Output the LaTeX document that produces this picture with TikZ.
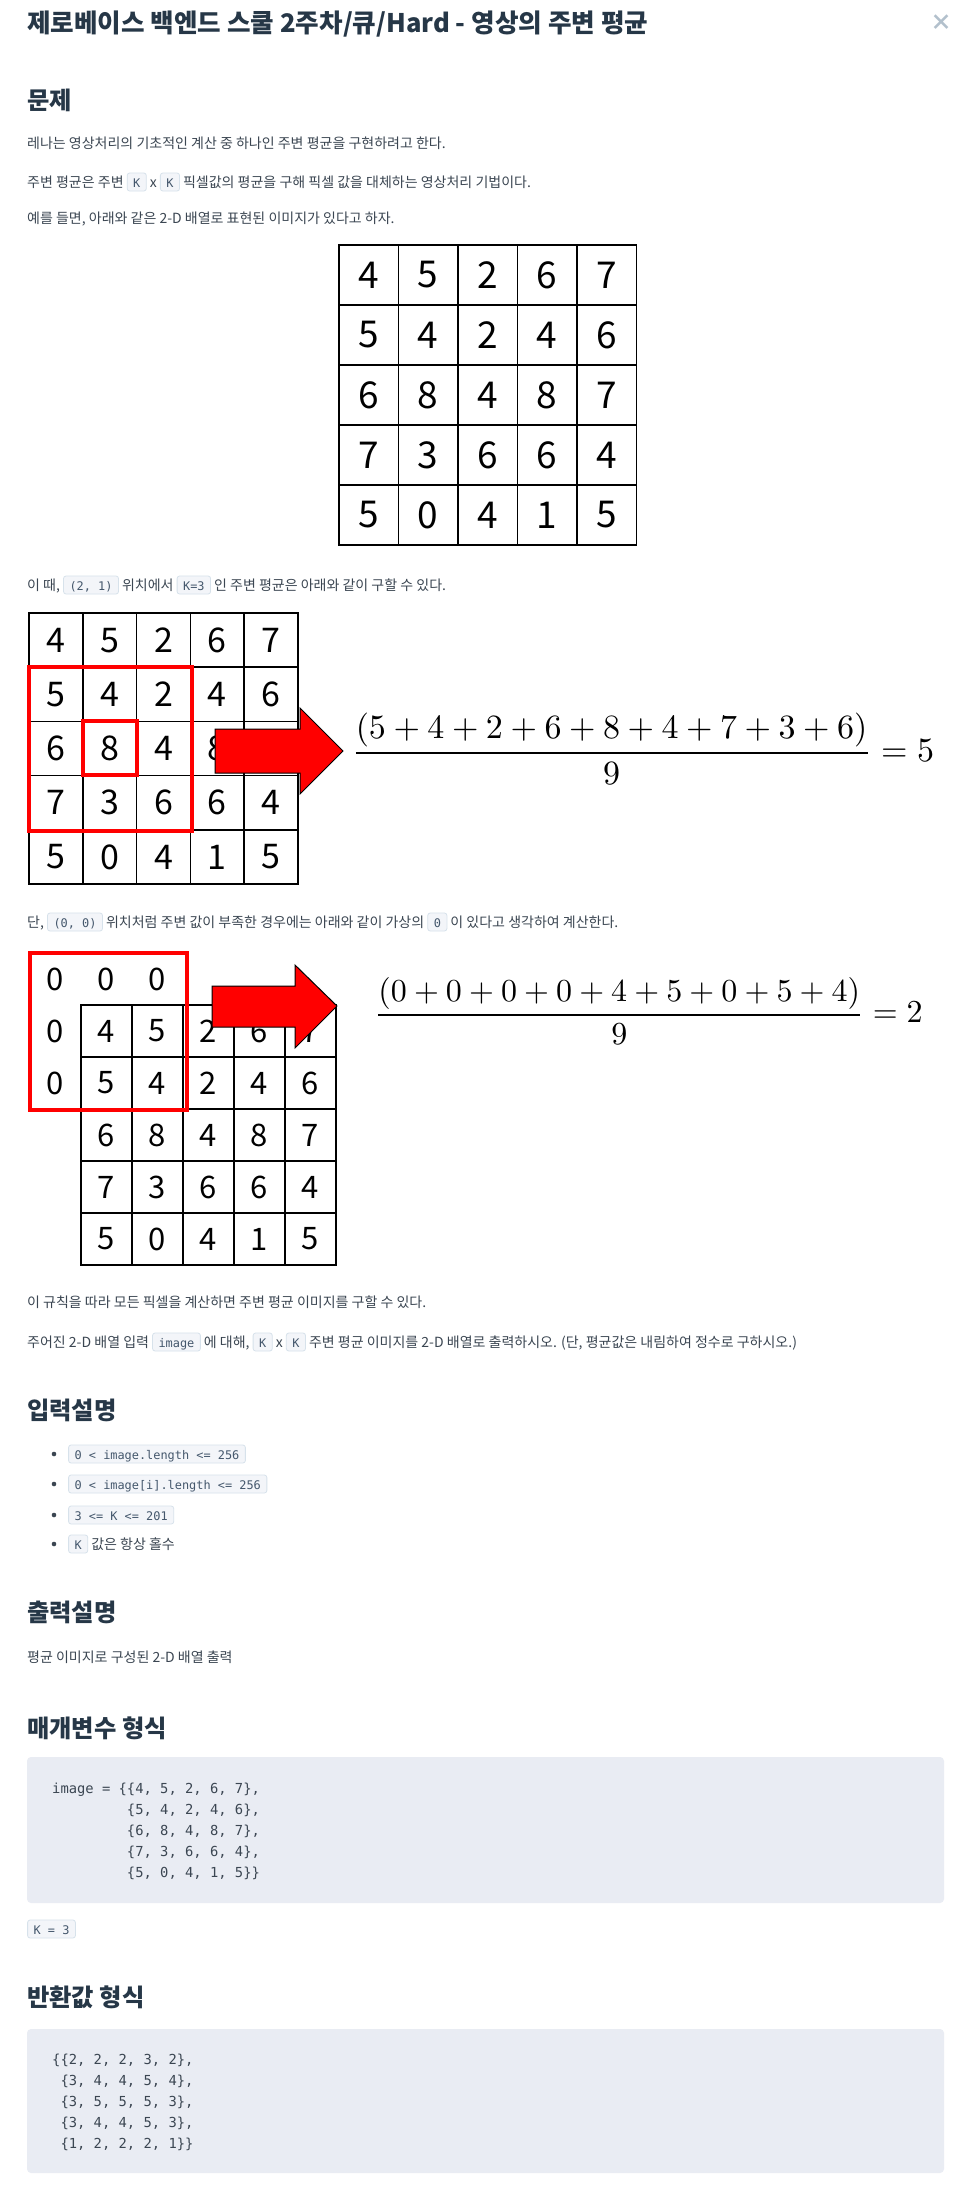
\documentclass[tikz,border=0pt]{standalone}
\usepackage{fontspec}
\setmainfont{Noto Sans CJK KR}
\newfontfamily\kr{Noto Sans CJK KR}
\newfontfamily\mono{DejaVu Sans Mono}
\definecolor{headc}{HTML}{263747}
\definecolor{bodyc}{HTML}{3B4652}
\definecolor{codebg}{HTML}{E9ECF3}
\definecolor{icbg}{HTML}{F3F5F9}
\definecolor{icbd}{HTML}{D7E2EB}
\definecolor{ictext}{HTML}{44576C}
\definecolor{closec}{HTML}{B2C0CC}
\definecolor{arrred}{HTML}{FF0000}
\newcommand{\ic}[1]{\tikz[baseline=(icn.base)]\node[fill=icbg,draw=icbd,line width=0.8pt,rounded corners=2.5pt,inner xsep=6pt,inner ysep=0pt,text height=14pt,text depth=4pt,font=\mono\fontsize{11.9}{12}\selectfont,text=ictext](icn){#1};}
\tikzset{
  ttl/.style={anchor=base west,inner sep=0,text=headc,font=\kr\bfseries\fontsize{25.6}{30}\selectfont},
  hd/.style={anchor=base west,inner sep=0,text=headc,font=\kr\bfseries\fontsize{24.3}{28}\selectfont},
  txt/.style={anchor=base west,inner sep=0,text=bodyc,font=\kr\fontsize{14}{16}\selectfont},
  cd/.style={anchor=base west,inner sep=0,text=bodyc,font=\mono\fontsize{13.8}{16}\selectfont},
  cell1/.style={draw=black,line width=1.6pt,minimum width=59.7pt,minimum height=60pt,inner sep=0,font=\kr\fontsize{37}{40}\selectfont},
  cell2/.style={draw=black,line width=1.6pt,minimum width=53.8pt,minimum height=54.2pt,inner sep=0,font=\kr\fontsize{34}{38}\selectfont},
  cell3/.style={draw=black,line width=1.6pt,minimum width=51pt,minimum height=52pt,inner sep=0,font=\kr\fontsize{31}{34}\selectfont},
  virt/.style={minimum width=51pt,minimum height=52pt,inner sep=0,font=\kr\fontsize{31}{34}\selectfont},
  redbox/.style={draw=arrred,line width=4pt},
  bigarrow/.style={fill=arrred,draw=black,line width=1pt,line join=miter},
  fml/.style={anchor=west,inner sep=0,transform shape,font=\fontsize{10}{12}\selectfont},
  bul/.style={fill=bodyc}
}
\begin{document}
\begin{tikzpicture}[x=1pt,y=-1pt]
\useasboundingbox[fill=white] (0,0) rectangle (966,2206);
% title
\node[ttl] (title) at (27,32) {제로베이스 백엔드 스쿨 2주차/큐/Hard - 영상의 주변 평균};
\node[text=closec,inner sep=0,font=\kr\bfseries\fontsize{22}{24}\selectfont] (close) at (941,23) {×};
% problem
\node[hd] (h1) at (27,109) {문제};
\node[txt] (p1) at (27,148) {레나는 영상처리의 기초적인 계산 중 하나인 주변 평균을 구현하려고 한다.};
\node[txt] (p2) at (27,187) {주변 평균은 주변 \ic{K} x \ic{K} 픽셀값의 평균을 구해 픽셀 값을 대체하는 영상처리 기법이다.};
\node[txt] (p3) at (27,223) {예를 들면, 아래와 같은 2-D 배열로 표현된 이미지가 있다고 하자.};
% grid 1
\foreach \row [count=\i from 0] in {{4,5,2,6,7},{5,4,2,4,6},{6,8,4,8,7},{7,3,6,6,4},{5,0,4,1,5}}{
  \foreach \v [count=\j from 0] in \row {
    \node[cell1] (ga-\i-\j) at ({339+59.5*\j+29.75},{245+60*\i+30}) {\v};
  }
}
\node[txt] (l1) at (27,590) {이 때, \ic{(2, 1)} 위치에서 \ic{K=3} 인 주변 평균은 아래와 같이 구할 수 있다.};
% grid 2
\foreach \row [count=\i from 0] in {{4,5,2,6,7},{5,4,2,4,6},{6,8,4,8,7},{7,3,6,6,4},{5,0,4,1,5}}{
  \foreach \v [count=\j from 0] in \row {
    \node[cell2] (gb-\i-\j) at ({29+53.8*\j+26.9},{613+54.2*\i+27.1}) {\v};
  }
}
\draw[redbox] (29,667) rectangle (192,831);
\draw[redbox] (83,721) rectangle (137,775);
\draw[bigarrow] (215,729) -- (300,729) -- (300,708) -- (343,751) -- (300,794) -- (300,773) -- (215,773) -- cycle;
\node[fml,scale=3.4] (f1) at (351,749) {$\displaystyle\frac{(5+4+2+6+8+4+7+3+6)}{9}=5$};
\node[txt] (l2) at (27,927) {단, \ic{(0, 0)} 위치처럼 주변 값이 부족한 경우에는 아래와 같이 가상의 \ic{0} 이 있다고 생각하여 계산한다.};
% grid 3
\foreach \row [count=\i from 0] in {{4,5,2,6,7},{5,4,2,4,6},{6,8,4,8,7},{7,3,6,6,4},{5,0,4,1,5}}{
  \foreach \v [count=\j from 0] in \row {
    \node[cell3] (gc-\i-\j) at ({81+51*\j+25.5},{1005+52*\i+26}) {\v};
  }
}
\node[virt] (z00) at (55.5,979) {0};
\node[virt] (z01) at (106.5,979) {0};
\node[virt] (z02) at (157.5,979) {0};
\node[virt] (z10) at (55.5,1031) {0};
\node[virt] (z20) at (55.5,1083) {0};
\draw[redbox] (30,953) rectangle (187,1110);
\draw[bigarrow] (212,986) -- (295,986) -- (295,965) -- (337,1006) -- (295,1048) -- (295,1027) -- (212,1027) -- cycle;
\node[fml,scale=3.2] (f2) at (374,1011) {$\displaystyle\frac{(0+0+0+0+4+5+0+5+4)}{9}=2$};
\node[txt] (l3) at (27,1307) {이 규칙을 따라 모든 픽셀을 계산하면 주변 평균 이미지를 구할 수 있다.};
\node[txt] (l4) at (27,1347) {주어진 2-D 배열 입력 \ic{image} 에 대해, \ic{K} x \ic{K} 주변 평균 이미지를 2-D 배열로 출력하시오. (단, 평균값은 내림하여 정수로 구하시오.)};
% input
\node[hd] (h2) at (27,1419) {입력설명};
\fill[bul] (54,1454) circle (2.3);
\fill[bul] (54,1484) circle (2.3);
\fill[bul] (54,1515) circle (2.3);
\fill[bul] (54,1544) circle (2.3);
\node[txt] (b1) at (68,1459) {\ic{0 < image.length <= 256}};
\node[txt] (b2) at (68,1489) {\ic{0 < image[i].length <= 256}};
\node[txt] (b3) at (68,1520) {\ic{3 <= K <= 201}};
\node[txt] (b4) at (68,1549) {\ic{K} 값은 항상 홀수};
% output
\node[hd] (h3) at (27,1621) {출력설명};
\node[txt] (l5) at (27,1662) {평균 이미지로 구성된 2-D 배열 출력};
% parameters
\node[hd] (h4) at (27,1737) {매개변수 형식};
\fill[codebg,rounded corners=4pt] (27,1757) rectangle (944,1903);
\node[cd] (c1) at (52,1793) {image = \{\{4, 5, 2, 6, 7\},};
\node[cd] (c2) at (52,1814) {\hphantom{image = \{}\{5, 4, 2, 4, 6\},};
\node[cd] (c3) at (52,1835) {\hphantom{image = \{}\{6, 8, 4, 8, 7\},};
\node[cd] (c4) at (52,1856) {\hphantom{image = \{}\{7, 3, 6, 6, 4\},};
\node[cd] (c5) at (52,1877) {\hphantom{image = \{}\{5, 0, 4, 1, 5\}\}};
\node[txt] (k3) at (27,1934) {\ic{K = 3}};
% return
\node[hd] (h5) at (27,2006) {반환값 형식};
\fill[codebg,rounded corners=4pt] (27,2029) rectangle (944,2173);
\node[cd] (r1) at (52,2064) {\{\{2, 2, 2, 3, 2\},};
\node[cd] (r2) at (52,2085) {\hphantom{\{}\{3, 4, 4, 5, 4\},};
\node[cd] (r3) at (52,2106) {\hphantom{\{}\{3, 5, 5, 5, 3\},};
\node[cd] (r4) at (52,2127) {\hphantom{\{}\{3, 4, 4, 5, 3\},};
\node[cd] (r5) at (52,2148) {\hphantom{\{}\{1, 2, 2, 2, 1\}\}};
\end{tikzpicture}
\end{document}
